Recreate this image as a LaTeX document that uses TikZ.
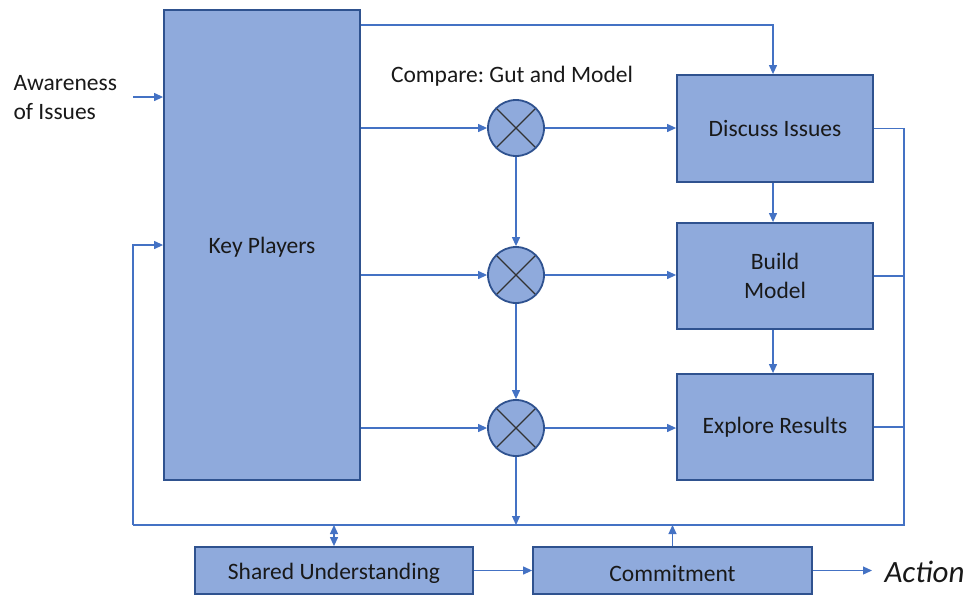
\documentclass[tikz,border=0pt]{standalone}
\usepackage{fontspec}
\setmainfont{Carlito}
\usetikzlibrary{arrows.meta}
\definecolor{boxfill}{HTML}{8FAADC}
\definecolor{boxline}{HTML}{2F528F}
\definecolor{wire}{HTML}{4472C4}
\frenchspacing
\begin{document}
\begin{tikzpicture}[x=1pt,y=-1pt,
  every node/.style={font=\fontsize{23.5}{29}\selectfont, text=black!90},
  block/.style={draw=boxline, fill=boxfill, line width=1.8pt, inner sep=0pt},
  mixer/.style={circle, draw=boxline, fill=boxfill, line width=1.8pt,
    minimum size=56pt, inner sep=0pt,
    path picture={\draw[black!80, line width=1.1pt]
      (path picture bounding box.north west) -- (path picture bounding box.south east)
      (path picture bounding box.north east) -- (path picture bounding box.south west);}},
  wireline/.style={draw=wire, line width=1.2pt},
  arr/.style={wireline, -{Triangle[length=9pt,width=8pt]}},
  darr/.style={wireline, {Triangle[length=9pt,width=8pt]}-{Triangle[length=9pt,width=8pt]}}
]
\useasboundingbox (0,0) rectangle (968,595);

% blocks
\node[block, minimum width=196pt, minimum height=470pt] (kp) at (262,245) {};
\node at (262,247) {Key Players};
\node[block, minimum width=196pt, minimum height=107pt] (di) at (775,128.5) {Discuss Issues};
\node[block, minimum width=196pt, minimum height=106pt, align=center] (bm) at (775,276) {Build\\Model};
\node[block, minimum width=196pt, minimum height=106pt] (er) at (775,427) {Explore Results};
\node[block, minimum width=278pt, minimum height=47pt] (su) at (334,570.5) {};
\node at (334,573) {Shared Understanding};
\node[block, minimum width=279pt, minimum height=47pt] (cm) at (672.5,570.5) {};
\node at (672.5,573) {Commitment};

% comparison junctions
\node[mixer] (c1) at (516,128) {};
\node[mixer] (c2) at (516,275) {};
\node[mixer] (c3) at (516,428) {};

% labels
\node[anchor=west, align=left] (aw) at (10,98) {Awareness\\of Issues};
\node (cmp) at (512,76) {Compare: Gut and Model};
\node[anchor=west, font=\fontsize{31}{36}\selectfont\itshape] (act) at (881,572) {Action};

% bus corners
\coordinate (busR) at (904,525);
\coordinate (busL) at (133,525);
\coordinate (fb) at (133,245);
\coordinate (awin) at (133,97);
\coordinate (top) at (773,25);

% inputs to key players
\draw[arr] (awin) -- (awin -| kp.west);
\draw[arr] (busL) -- (fb) -- (fb -| kp.west);

% key players to discuss issues (top route)
\draw[arr] (top -| kp.east) -- (top) -- (top |- di.north);

% key players to junctions
\draw[arr] (c1 -| kp.east) -- (c1);
\draw[arr] (c2 -| kp.east) -- (c2);
\draw[arr] (c3 -| kp.east) -- (c3);

% junction chain
\draw[arr] (c1) -- (c2);
\draw[arr] (c2) -- (c3);
\draw[arr] (c3.south) -- (c3.south |- busR);

% junctions to blocks
\draw[arr] (c1) -- (c1 -| di.west);
\draw[arr] (c2) -- (c2 -| bm.west);
\draw[arr] (c3) -- (c3 -| er.west);

% block chain
\draw[arr] (top |- di.south) -- (top |- bm.north);
\draw[arr] (top |- bm.south) -- (top |- er.north);

% feedback bus
\draw[wireline] (di.east) -- (di.east -| busR) -- (busR) -- (busL);
\draw[wireline] (bm.east) -- (bm.east -| busR);
\draw[wireline] (er.east) -- (er.east -| busR);

% bottom row
\draw[darr] (su.north) -- (su.north |- busR);
\draw[arr] (cm.north) -- (cm.north |- busR);
\draw[arr] (su.east) -- (cm.west);
\draw[arr] (cm.east) -- ([xshift=-9pt]cm.east -| act.west);
\end{tikzpicture}
\end{document}
